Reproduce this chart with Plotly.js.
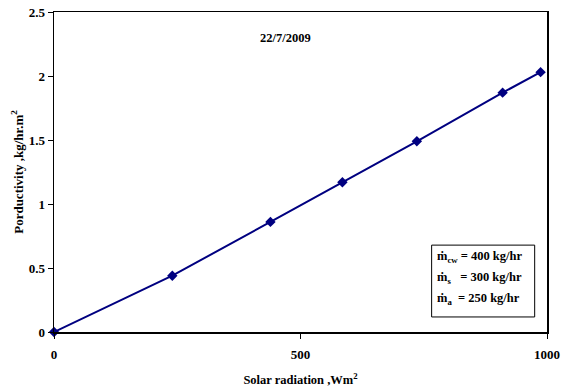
<!DOCTYPE html>
<html><head><meta charset="utf-8">
<script src="https://cdn.plot.ly/plotly-3.0.1.min.js"></script>
<style>body{margin:0;padding:0;background:#fff}#chart{width:565px;height:389px}</style>
</head><body><div id="chart"></div>
<script>
const solarRadiation = [0, 240, 439, 585, 736, 910, 987];
const productivity = [0, 0.44, 0.86, 1.17, 1.49, 1.87, 2.03];
const xTicks = [0, 500, 1000];
const yTicks = [0, 0.5, 1, 1.5, 2, 2.5];
const yTickLabels = ['0', '0.5', '1', '1.5', '2', '2.5'];
const chartTitle = '22/7/2009';
const xTitle = 'Solar radiation ,Wm<sup>2</sup>';
const yTitle = 'Porductivity ,kg/hr.m<sup>2</sup>';
const legendLines = ['ṁ<sub>cw</sub> = 400 kg/hr', 'ṁ<sub>s</sub>   = 300 kg/hr', 'ṁ<sub>a</sub>  = 250 kg/hr'];

const font = {family: 'Liberation Serif, Times New Roman, serif', color: '#000'};
const trace = {
  x: solarRadiation, y: productivity, type: 'scatter', mode: 'lines+markers',
  line: {color: '#000080', width: 2},
  marker: {symbol: 'diamond', size: 8, color: '#000080'},
  cliponaxis: false
};
const lineY = [0.234, 0.168, 0.103];
const annotations = [
  {xref: 'paper', yref: 'paper', x: 0.47, y: 0.92, xanchor: 'center', yanchor: 'middle',
   text: '<b>' + chartTitle + '</b>', showarrow: false, font: Object.assign({size: 12.5}, font)}
];
legendLines.forEach((s, i) => annotations.push({
  xref: 'paper', yref: 'paper', x: 0.772, y: lineY[i], xanchor: 'left', yanchor: 'middle',
  text: '<b>' + s + '</b>', showarrow: false, font: Object.assign({size: 12.5}, font)
}));
const layout = {
  width: 565, height: 389,
  margin: {l: 54, r: 17.5, t: 11.5, b: 57},
  paper_bgcolor: '#fff', plot_bgcolor: '#fff',
  showlegend: false,
  font: Object.assign({size: 12}, font),
  xaxis: {
    range: [0, 1000], tickvals: xTicks, ticktext: xTicks.map(String),
    showgrid: false, zeroline: false, showline: true, mirror: true,
    linecolor: '#000', linewidth: 1.5, ticks: 'outside', ticklen: 5, tickcolor: '#000',
    ticklabelstandoff: 5,
    tickfont: Object.assign({size: 13, weight: 'bold'}, font),
    title: {text: xTitle, font: Object.assign({size: 12.5, weight: 'bold'}, font), standoff: 14}
  },
  yaxis: {
    range: [0, 2.5], tickvals: yTicks, ticktext: yTickLabels,
    showgrid: false, zeroline: false, showline: true, mirror: true,
    linecolor: '#000', linewidth: 1.5, ticks: 'outside', ticklen: 5, tickcolor: '#000',
    tickfont: Object.assign({size: 13, weight: 'bold'}, font),
    title: {text: yTitle, font: Object.assign({size: 13, weight: 'bold'}, font), standoff: 2}
  },
  shapes: [
    {type: 'rect', xref: 'paper', yref: 'paper', x0: 0.766, x1: 0.975, y0: 0.047, y1: 0.2715,
     line: {color: '#000', width: 1}, fillcolor: 'rgba(0,0,0,0)'}
  ],
  annotations: annotations
};
Plotly.newPlot('chart', [trace], layout, {displayModeBar: false, staticPlot: true});
</script></body></html>
